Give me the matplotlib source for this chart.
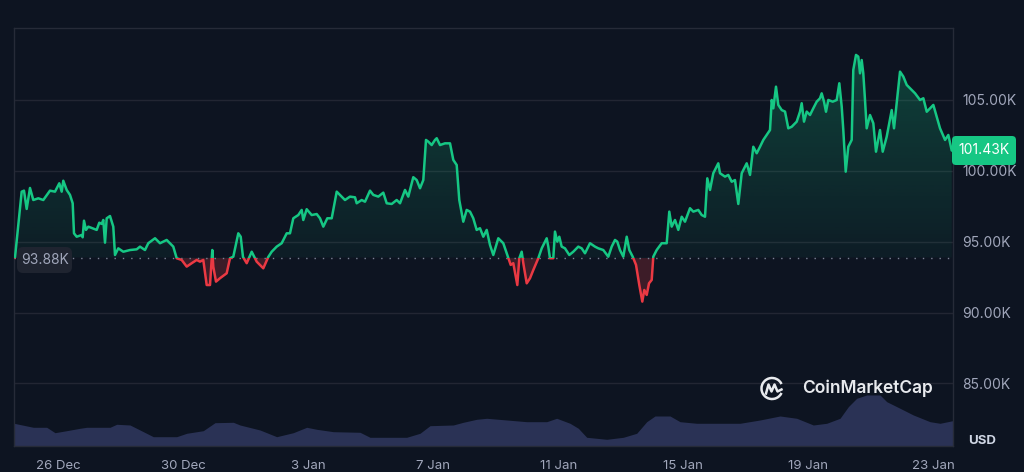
import numpy as np
import matplotlib
matplotlib.use("Agg")
import matplotlib.pyplot as plt
from matplotlib.patches import Rectangle, FancyBboxPatch, Arc, PathPatch
from matplotlib.transforms import IdentityTransform
from matplotlib.lines import Line2D

# ---------------- data ----------------
# days since 26 Dec 00:00, price in thousands USD
price_days = [-1.399, -1.185, -1.111, -1.025, -0.919, -0.813, -0.653, -0.493, -0.279, -0.118,
              0.019, 0.096, 0.147, 0.256, 0.362, 0.448, 0.490, 0.576, 0.736, 0.768,
              0.810, 0.874, 0.948, 1.217, 1.300, 1.377, 1.428, 1.483, 1.537, 1.643,
              1.748, 1.803, 1.908, 2.069, 2.283, 2.498, 2.603, 2.763, 2.869, 3.084,
              3.244, 3.458, 3.669, 3.778, 3.938, 4.099, 4.259, 4.419, 4.524, 4.630,
              4.739, 4.845, 4.918, 4.950, 5.037, 5.165, 5.379, 5.485, 5.591, 5.751,
              5.828, 5.901, 6.020, 6.180, 6.340, 6.551, 6.711, 6.820, 6.980, 7.140,
              7.301, 7.406, 7.512, 7.672, 7.781, 7.832, 7.941, 8.101, 8.261, 8.367,
              8.473, 8.601, 8.742, 8.902, 9.007, 9.167, 9.327, 9.488, 9.542, 9.702,
              9.808, 9.968, 10.074, 10.234, 10.394, 10.503, 10.663, 10.823, 10.929, 11.089,
              11.194, 11.354, 11.463, 11.569, 11.675, 11.761, 11.835, 11.943, 12.049, 12.104,
              12.209, 12.369, 12.530, 12.635, 12.744, 12.827, 12.955, 13.064, 13.170, 13.275,
              13.384, 13.490, 13.596, 13.705, 13.810, 13.916, 14.076, 14.236, 14.345, 14.473,
              14.556, 14.685, 14.749, 14.825, 14.877, 14.986, 15.091, 15.197, 15.357, 15.466,
              15.626, 15.677, 15.731, 15.837, 15.891, 15.965, 16.029, 16.106, 16.211, 16.349,
              16.477, 16.637, 16.746, 16.852, 17.012, 17.172, 17.278, 17.438, 17.598, 17.707,
              17.813, 17.886, 17.973, 18.079, 18.188, 18.271, 18.380, 18.486, 18.591, 18.687,
              18.751, 18.828, 18.902, 18.988, 19.039, 19.148, 19.308, 19.468, 19.551, 19.628,
              19.734, 19.840, 19.949, 20.054, 20.214, 20.320, 20.480, 20.589, 20.695, 20.768,
              20.855, 20.960, 21.120, 21.175, 21.335, 21.441, 21.550, 21.655, 21.761, 21.870,
              22.030, 22.136, 22.241, 22.350, 22.456, 22.562, 22.670, 22.776, 22.831, 22.882,
              22.968, 23.042, 23.151, 23.257, 23.362, 23.471, 23.631, 23.737, 23.791, 23.865,
              23.951, 24.057, 24.162, 24.271, 24.377, 24.431, 24.505, 24.569, 24.643, 24.784,
              24.912, 24.995, 25.072, 25.123, 25.200, 25.283, 25.392, 25.443, 25.530, 25.603,
              25.658, 25.712, 25.763, 25.818, 25.872, 25.978, 26.084, 26.170, 26.298, 26.385,
              26.513, 26.673, 26.747, 26.939, 27.045, 27.154, 27.314, 27.420, 27.580, 27.686,
              27.795, 27.900, 28.006, 28.115, 28.220, 28.381, 28.486, 28.595]
price_k = [93.88, 98.53, 98.60, 97.31, 98.79, 97.94, 98.06, 97.94, 98.60, 98.53,
           99.12, 98.53, 99.30, 98.65, 98.30, 97.71, 95.59, 95.35, 95.47, 95.31,
           96.48, 95.83, 96.06, 95.83, 96.34, 96.25, 96.53, 94.93, 96.65, 96.81,
           96.06, 94.06, 94.53, 94.29, 94.41, 94.46, 94.65, 94.41, 94.89, 95.24,
           94.89, 95.12, 94.65, 93.83, 93.71, 93.24, 93.48, 93.71, 93.59, 93.71,
           91.94, 91.94, 94.41, 93.24, 92.18, 92.42, 92.77, 93.83, 93.94, 95.59,
           95.35, 93.92, 93.48, 94.29, 93.59, 93.12, 93.92, 94.29, 94.65, 94.89,
           95.59, 95.59, 96.65, 96.88, 97.24, 96.53, 97.29, 96.88, 96.95, 96.65,
           96.06, 96.65, 96.65, 98.53, 98.30, 97.94, 98.18, 98.13, 97.71, 97.94,
           97.82, 98.60, 98.30, 98.18, 98.46, 97.71, 97.66, 97.94, 97.71, 98.65,
           98.18, 99.55, 99.35, 98.77, 99.35, 102.18, 102.06, 101.82, 102.18, 102.30,
           101.82, 101.94, 101.94, 100.77, 100.41, 97.94, 96.41, 97.24, 97.12, 96.65,
           95.83, 95.95, 95.35, 95.83, 94.77, 94.06, 95.24, 94.89, 94.18, 93.36,
           93.48, 91.94, 93.83, 94.29, 93.48, 92.06, 92.42, 93.00, 93.83, 94.53,
           95.24, 94.65, 93.83, 93.83, 95.71, 95.00, 95.35, 94.65, 94.53, 94.06,
           94.29, 94.65, 94.53, 94.18, 94.89, 94.65, 94.53, 94.41, 93.94, 94.65,
           95.12, 95.00, 94.41, 93.94, 95.35, 94.41, 93.94, 93.36, 91.94, 90.77,
           91.59, 91.24, 92.06, 92.30, 93.94, 94.41, 94.89, 94.89, 97.12, 96.06,
           96.53, 95.83, 96.76, 96.41, 97.36, 97.12, 97.24, 96.88, 96.76, 99.47,
           98.65, 99.83, 100.53, 99.83, 99.59, 99.71, 99.23, 99.35, 97.66, 99.83,
           100.53, 99.71, 101.70, 101.24, 101.70, 102.18, 102.53, 102.88, 105.00, 104.41,
           105.94, 104.65, 104.29, 104.18, 103.00, 103.11, 103.47, 104.18, 104.77, 103.47,
           104.18, 103.94, 104.41, 104.88, 105.12, 105.47, 104.88, 104.17, 105.00, 104.88,
           105.00, 106.18, 104.53, 102.88, 99.94, 101.70, 102.18, 107.12, 108.18, 108.06,
           106.88, 107.82, 106.88, 105.00, 103.00, 103.94, 103.36, 101.35, 102.88, 101.35,
           102.41, 104.29, 103.00, 107.00, 106.65, 106.06, 105.71, 105.47, 105.00, 105.12,
           104.17, 104.41, 104.65, 103.82, 103.00, 102.18, 102.53, 101.43]

vol_days = [-1.431, -0.813, -0.384, -0.118, 0.256, 0.682, 0.897, 1.643, 1.857, 2.283,
            2.603, 3.029, 3.778, 4.099, 4.630, 5.005, 5.591, 5.805, 6.446, 6.980,
            7.512, 7.941, 8.261, 8.793, 9.648, 9.968, 11.143, 11.569, 11.889, 12.635,
            12.955, 13.384, 13.705, 14.345, 14.985, 15.626, 15.946, 16.372, 16.638, 16.907,
            17.547, 18.079, 18.508, 18.828, 19.094, 19.574, 19.894, 20.429, 21.815, 22.456,
            23.097, 23.631, 24.163, 24.592, 25.018, 25.284, 25.552, 25.872, 26.298, 26.513,
            26.939, 27.365, 27.899, 28.220, 28.626]
vol_bn = [44.8, 36.8, 36.8, 26.0, 30.0, 34.8, 36.8, 36.8, 42.8, 41.4,
          31.4, 18.0, 18.0, 24.8, 30.0, 46.0, 46.8, 41.4, 31.4, 18.0,
          26.0, 36.8, 32.8, 28.0, 26.8, 16.8, 16.8, 24.8, 40.0, 41.4,
          46.8, 52.8, 54.8, 51.4, 48.0, 48.0, 54.8, 44.8, 34.8, 16.8,
          12.8, 16.8, 24.8, 48.0, 59.4, 59.4, 48.0, 44.8, 44.8, 51.4,
          59.4, 54.8, 41.4, 44.8, 54.8, 78.0, 94.8, 101.4, 101.4, 88.0,
          74.8, 61.4, 48.0, 44.8, 50.0]

date_ticks = [0, 4, 8, 12, 16, 20, 24, 28]
date_labels = ["26 Dec", "30 Dec", "3 Jan", "7 Jan", "11 Jan", "15 Jan", "19 Jan", "23 Jan"]
price_ticks = [85, 90, 95, 100, 105]
baseline = 93.88
last_price = 101.43

# ---------------- style ----------------
BG = "#0d1421"
GREEN = "#16c784"
RED = "#ea3943"
GRID = "#222633"
TXT = "#a1a7bb"
plt.rcParams["font.family"] = ["Inter", "DejaVu Sans"]

W, H = 1024, 472
fig = plt.figure(figsize=(W / 100, H / 100), dpi=100, facecolor=BG)
X0, X1 = -1.431, 28.626
Y0, Y1 = 80.6, 110.08
L, R, B, T = 14 / W, 952.7 / W, (H - 445.7) / H, (H - 28) / H

# volume axes (behind)
axv = fig.add_axes([L, B, R - L, T - B])
axv.set_facecolor(BG)
axv.fill_between(vol_days, vol_bn, 0, color="#2a3255", lw=0)
axv.set_xlim(X0, X1)
axv.set_ylim(0, 835)
axv.axis("off")

# price axes
ax = fig.add_axes([L, B, R - L, T - B], facecolor="none")
ax.set_xlim(X0, X1)
ax.set_ylim(Y0, Y1)

# green gradient fill above baseline
top = max(price_k)
n = 256
g = np.linspace(0, 1, n)
rgba = np.zeros((n, 1, 4))
rgba[:, 0, 0] = 22 / 255
rgba[:, 0, 1] = 199 / 255
rgba[:, 0, 2] = 132 / 255
rgba[:, 0, 3] = 0.05 + 0.21 * g
im = ax.imshow(rgba, extent=[X0, X1, baseline, top], origin="lower",
               aspect="auto", zorder=2, interpolation="bilinear")
poly = ax.fill_between(price_days, price_k, baseline, color="none", lw=0)
clip_poly = PathPatch(poly.get_paths()[0], transform=ax.transData,
                      facecolor="none", edgecolor="none")
ax.add_patch(clip_poly)
im.set_clip_path(clip_poly)

above = Rectangle((X0, baseline), X1 - X0, Y1 - baseline, transform=ax.transData)
below = Rectangle((X0, Y0), X1 - X0, baseline - Y0, transform=ax.transData)

rf = ax.fill_between(price_days, price_k, baseline, color=RED, alpha=0.22, lw=0, zorder=2)
rf.set_clip_path(below)

lg, = ax.plot(price_days, price_k, color=GREEN, lw=1.8, zorder=4,
              solid_joinstyle="round", solid_capstyle="round")
lg.set_clip_path(above)
lr, = ax.plot(price_days, price_k, color=RED, lw=1.8, zorder=4,
              solid_joinstyle="round", solid_capstyle="round")
lr.set_clip_path(below)

ax.set_xlim(X0, X1)
ax.set_ylim(Y0, Y1)

# baseline dotted
ax.axhline(baseline, color="#7a8194", lw=1.0, ls=(0, (1, 5)), zorder=3)

# grid / spines
ax.set_yticks(price_ticks)
ax.set_yticklabels([f"{v:.2f}K" for v in price_ticks])
ax.yaxis.tick_right()
ax.grid(axis="y", color=GRID, lw=1.0, zorder=0)
ax.set_xticks(date_ticks)
ax.set_xticklabels(date_labels)
ax.tick_params(axis="both", length=0, labelcolor=TXT, labelsize=9.5)
ax.tick_params(axis="y", pad=7, labelsize=10)
ax.tick_params(axis="x", pad=10)
for s in ax.spines.values():
    s.set_color("#262b38")
    s.set_linewidth(1.0)

# pixel helpers (display coords, origin bottom-left)
def px(x, ytop):
    return x, H - ytop

idt = IdentityTransform()

# current price label
x0, y0 = px(952, 165)
fig.patches.append(FancyBboxPatch((x0, y0), 64, 29, boxstyle="round,pad=0,rounding_size=4",
                                  transform=idt, facecolor=GREEN, edgecolor="none", zorder=5))
fig.text(984 / W, 1 - 150.5 / H, f"{last_price:.2f}K", color="white", fontsize=10,
         ha="center", va="center", zorder=6)

# baseline label
x0, y0 = px(17, 273)
fig.patches.append(FancyBboxPatch((x0, y0), 55, 26, boxstyle="round,pad=0,rounding_size=6",
                                  transform=idt, facecolor="#1f2430", edgecolor="none", zorder=5))
fig.text(44.8 / W, 1 - 260 / H, f"{baseline:.2f}K", color=TXT, fontsize=10,
         ha="center", va="center", zorder=6)

# USD
fig.text(982 / W, 1 - 441.5 / H, "USD", color="#cfd6e4", fontsize=9.5,
         fontweight="bold", ha="center", va="center")

# watermark
fig.text(802 / W, 1 - 388 / H, "CoinMarketCap", color="#e8eaee", fontsize=12.5,
         fontweight="semibold", ha="left", va="center", zorder=6)
cx, cy = px(772, 388.5)
fig.patches.append(Arc((cx, cy), 21, 21, theta1=25, theta2=335, transform=idt,
                       color="#e8eaee", lw=1.8, zorder=6))
mx = [cx - 6, cx - 3.5, cx - 0.5, cx + 2.5, cx + 5.5, cx + 9.5]
my = [cy - 5, cy + 4, cy - 3, cy + 4, cy - 3, cy - 1]
fig.lines.append(Line2D(mx, my, transform=idt, color="#e8eaee", lw=1.8,
                        solid_joinstyle="round", zorder=6))

fig.savefig("out.png", dpi=100, facecolor=BG)
